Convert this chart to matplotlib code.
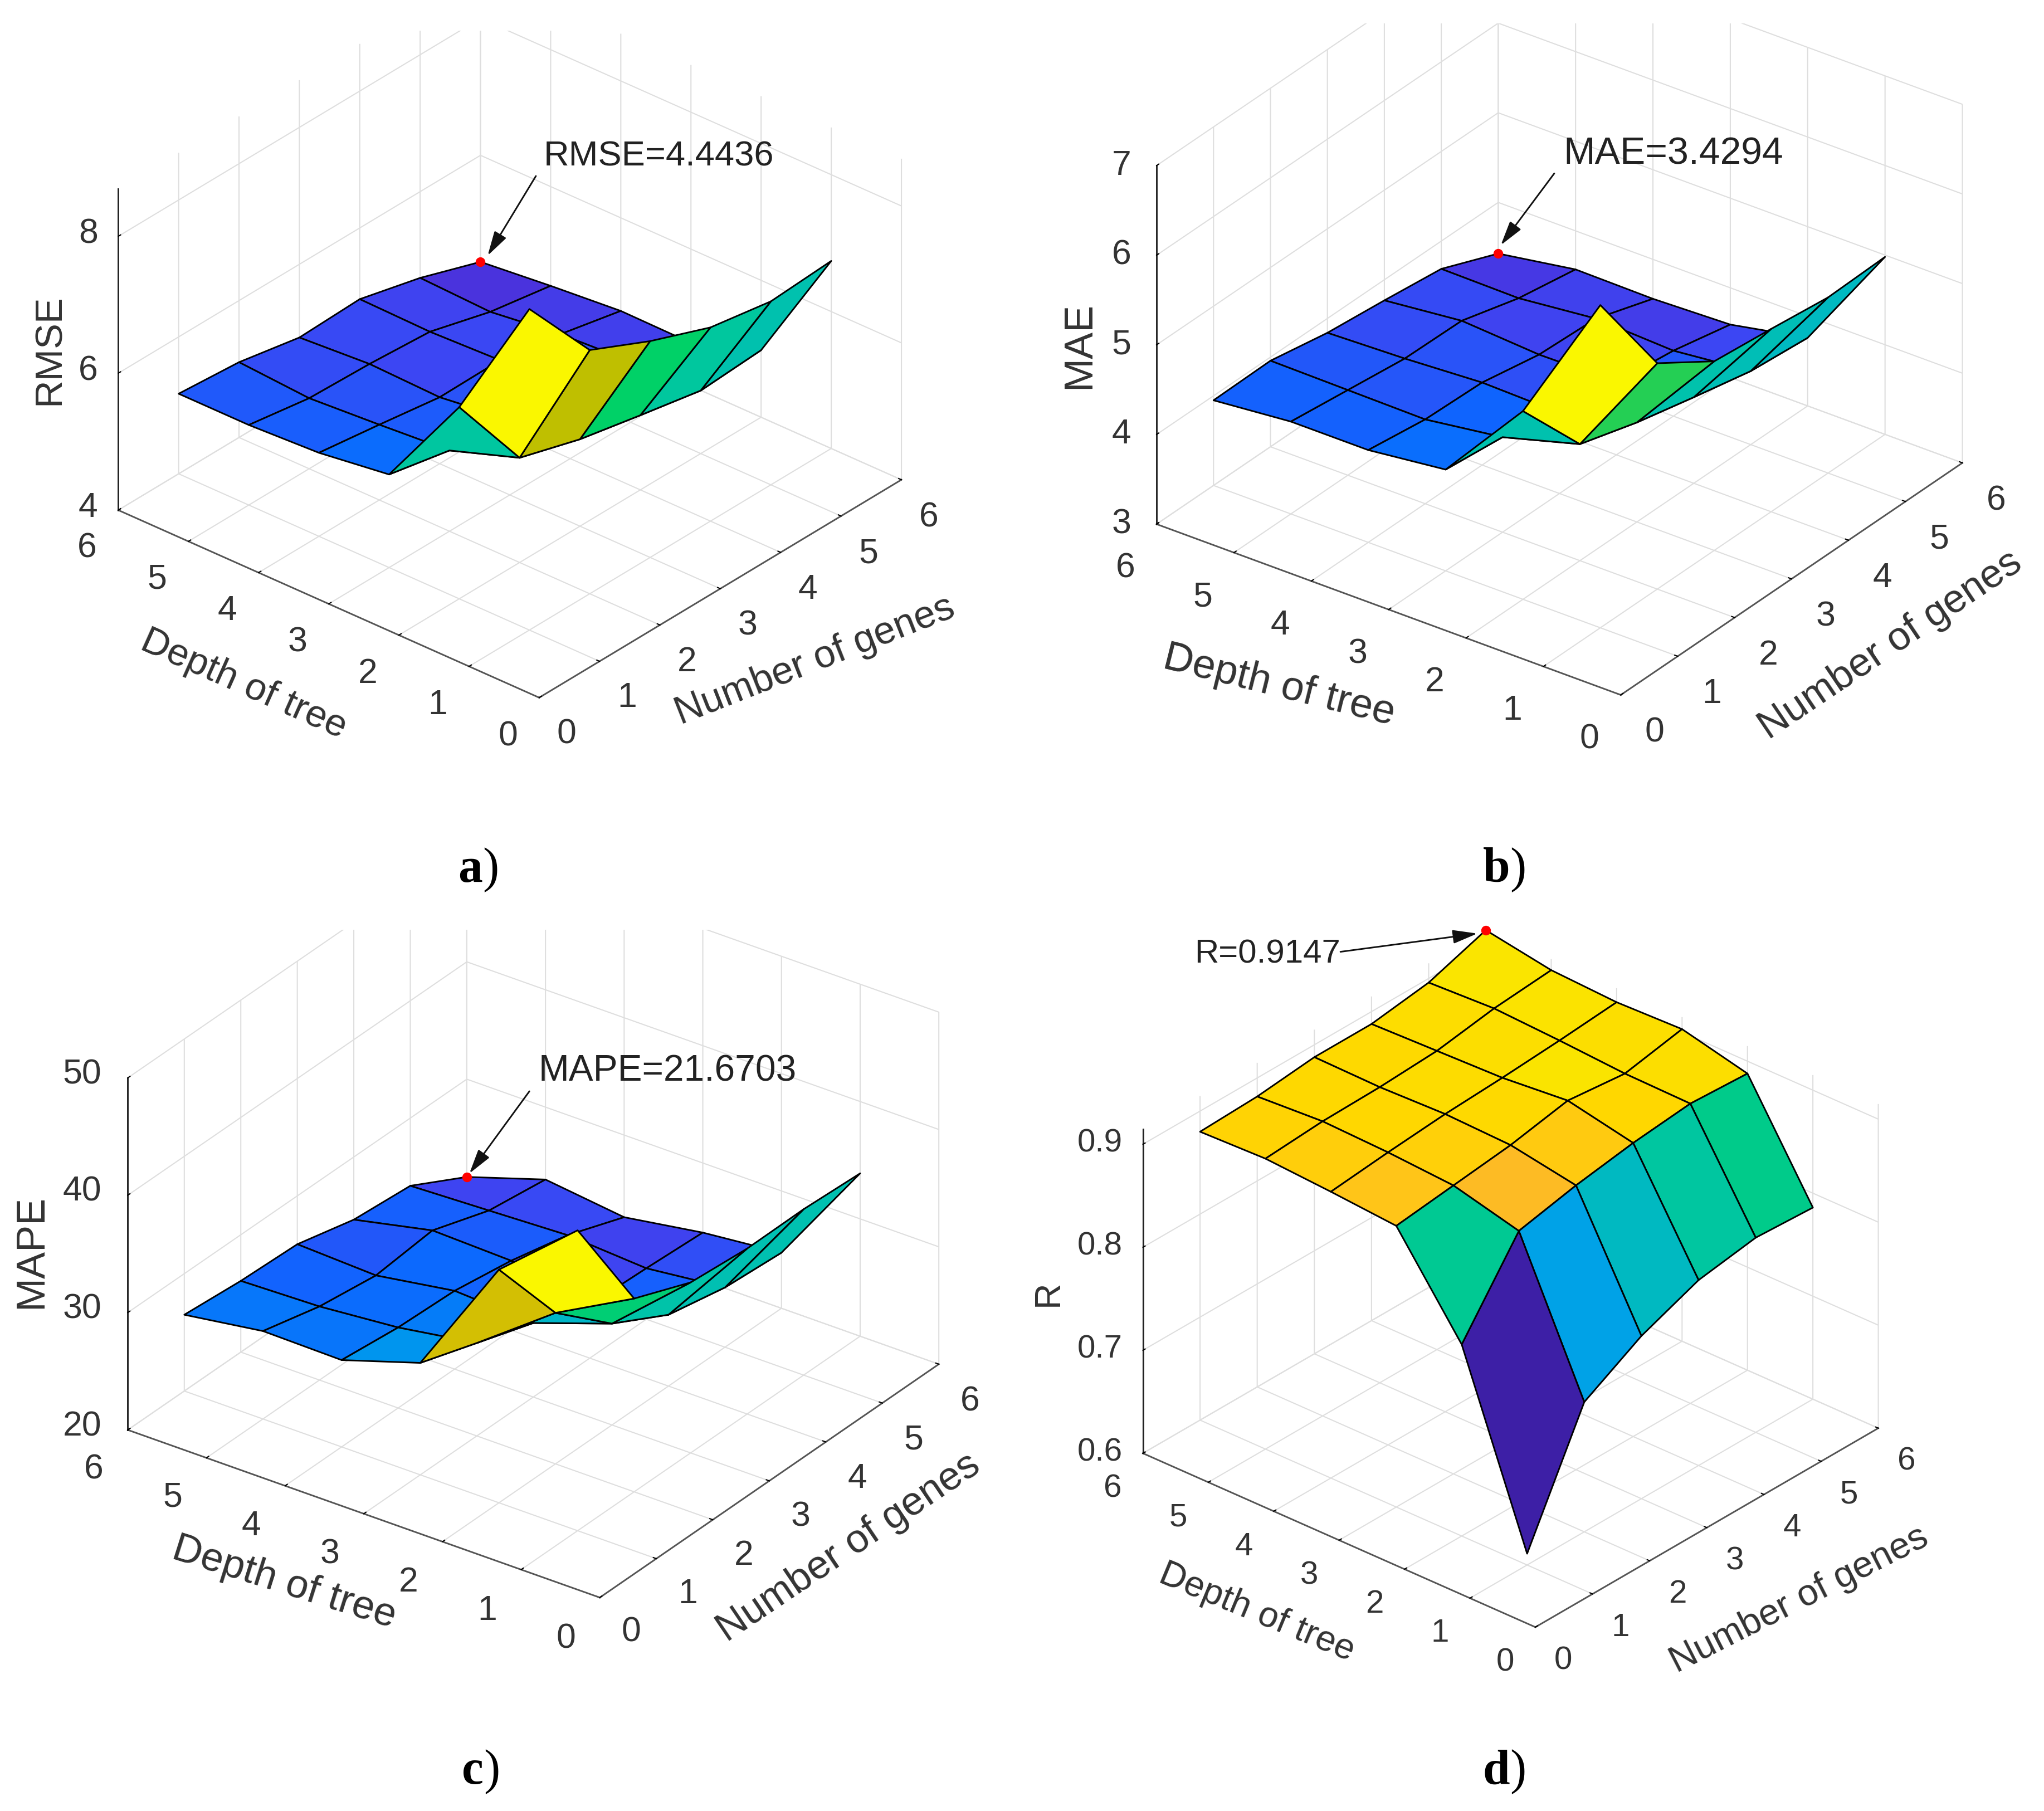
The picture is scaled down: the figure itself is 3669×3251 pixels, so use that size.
import math
import numpy as np
import matplotlib
matplotlib.use('Agg')
import matplotlib.pyplot as plt
from matplotlib.colors import LinearSegmentedColormap
from matplotlib.patches import Rectangle

plt.rcParams['font.family'] = ['Liberation Sans', 'DejaVu Sans']

genes = [1, 2, 3, 4, 5, 6]
depths = [1, 2, 3, 4, 5, 6]
axis_ticks = [0, 1, 2, 3, 4, 5, 6]

# rows: depth 1..6, columns: genes 1..6
rmse = [
    [8.69, 7.56, 7.16, 6.83, 6.68, 6.74],
    [6.80, 5.53, 5.27, 5.09, 4.92, 4.98],
    [5.36, 5.18, 5.10, 5.06, 4.89, 4.63],
    [5.22, 5.10, 4.97, 4.98, 4.83, 4.64],
    [5.17, 5.03, 5.00, 4.94, 4.70, 4.55],
    [5.17, 5.10, 4.93, 4.96, 4.74, 4.4436],
]
mae = [
    [6.60, 5.52, 5.11, 5.04, 4.96, 4.98],
    [5.10, 4.30, 4.11, 3.96, 3.82, 3.76],
    [4.13, 4.06, 3.90, 3.81, 3.73, 3.59],
    [4.03, 3.94, 3.92, 3.80, 3.77, 3.56],
    [4.03, 3.95, 3.87, 3.86, 3.68, 3.57],
    [3.95, 3.96, 3.84, 3.77, 3.69, 3.4294],
]
mape = [
    [45.60, 36.47, 34.53, 34.10, 34.14, 33.88],
    [39.87, 32.87, 28.64, 26.08, 25.09, 24.74],
    [29.54, 27.92, 26.31, 24.53, 24.34, 24.07],
    [27.40, 26.86, 26.67, 25.92, 24.78, 23.00],
    [27.49, 26.27, 25.60, 26.12, 24.50, 23.83],
    [26.50, 26.07, 25.88, 24.66, 24.23, 21.6703],
]
r_vals = [
    [0.611, 0.726, 0.758, 0.780, 0.789, 0.786],
    [0.786, 0.864, 0.876, 0.885, 0.891, 0.888],
    [0.873, 0.880, 0.887, 0.898, 0.892, 0.903],
    [0.878, 0.884, 0.889, 0.892, 0.896, 0.901],
    [0.882, 0.886, 0.887, 0.890, 0.899, 0.904],
    [0.880, 0.882, 0.888, 0.888, 0.896, 0.9147],
]

cmap = LinearSegmentedColormap.from_list('parula_like', [
    (0.00, (0.24, 0.12, 0.65)),
    (0.06, (0.29, 0.20, 0.87)),
    (0.12, (0.24, 0.27, 0.95)),
    (0.20, (0.05, 0.40, 1.00)),
    (0.30, (0.00, 0.55, 0.95)),
    (0.40, (0.00, 0.66, 0.89)),
    (0.50, (0.00, 0.74, 0.73)),
    (0.56, (0.00, 0.78, 0.62)),
    (0.64, (0.00, 0.82, 0.40)),
    (0.68, (0.30, 0.80, 0.25)),
    (0.73, (0.74, 0.75, 0.00)),
    (0.78, (0.88, 0.75, 0.02)),
    (0.84, (1.00, 0.73, 0.15)),
    (0.90, (1.00, 0.84, 0.00)),
    (0.95, (0.98, 0.90, 0.00)),
    (1.00, (0.98, 0.97, 0.00)),
])

W, H = 1568.0, 1389.0  # layout is worked out in the coordinates of the shrunk picture
txt = '#333333'

fig = plt.figure(figsize=(3670 / 300, 3251 / 300), dpi=300, facecolor='white')

# overlay for the labels, notes and captions
ov = fig.add_axes([0, 0, 1, 1], zorder=10)
ov.set_xlim(0, W)
ov.set_ylim(H, 0)
ov.axis('off')
ov.patch.set_alpha(0)


def draw_panel(values, zlim, zticks, zticklabels, front, gvec, dvec, zscale, tick_size,
               depth_off, genes_off, z_off):
    gx, gy = gvec
    dx, dy = dvec
    L = math.hypot(gx, dx)
    theta = math.atan2(gx, dx)
    elev = math.asin(0.5 * (gy / (L * math.cos(theta)) + dy / (L * math.sin(theta))))
    zpx = (zlim[1] - zlim[0]) * zscale
    box_h = zpx / math.cos(elev)

    aspect = np.array([L, L, box_h])
    world = aspect * 1.8294640721620434 * 25 / 24 / np.linalg.norm(aspect)
    S = 1.85 * L / world[0]
    cx = front[0] + (gx - dx) / 2
    cy = front[1] - (gy + dy) / 2 - zpx / 2
    left = cx - 0.95 / 1.85 * S
    bottom = cy + 0.95 / 1.85 * S

    ax = fig.add_axes([left / W, 1 - bottom / H, S / W, S / H], projection='3d')
    ax.set_proj_type('ortho')
    ax.set_box_aspect(aspect)
    ax.view_init(elev=math.degrees(elev), azim=-180 + math.degrees(theta))
    ax.set_facecolor('none')
    ax.computed_zorder = False

    X, Y = np.meshgrid(genes, depths)
    Z = np.array(values)
    colors = cmap((Z - Z.min()) / (Z.max() - Z.min()))
    ax.plot_surface(X, Y, Z, facecolors=colors, rstride=1, cstride=1, shade=False,
                    edgecolor='black', linewidth=0.7, antialiased=True, zorder=1)
    ax.scatter([genes[-1]], [depths[-1]], [Z[-1, -1]], color='red', s=10, depthshade=False, zorder=2)

    ax.set_xlim(0, 6, view_margin=0)
    ax.set_ylim(0, 6, view_margin=0)
    ax.set_zlim(zlim[0], zlim[1], view_margin=0)
    ax.set_xticks(axis_ticks)
    ax.set_yticks(axis_ticks)
    ax.set_zticks(zticks)
    # tick labels go on the overlay, mplot3d can only push them straight out from the box
    ax.set_xticklabels([''] * len(axis_ticks))
    ax.set_yticklabels([''] * len(axis_ticks))
    ax.set_zticklabels([''] * len(zticks))

    for axis in (ax.xaxis, ax.yaxis, ax.zaxis):
        axis.set_pane_color((1, 1, 1, 0))
        axis.pane.set_edgecolor((1, 1, 1, 0))
        axis.line.set_color('#555555')
        axis.line.set_linewidth(0.7)
        axis._axinfo['grid']['color'] = '#dedede'
        axis._axinfo['grid']['linewidth'] = 0.5
        axis._axinfo['tick']['inward_factor'] = 0.0
        axis._axinfo['tick']['outward_factor'] = 0.08
        axis._axinfo['tick']['linewidth'] = {True: 0.5, False: 0.5}
    ax.zaxis.line.set_color('#222222')

    for t in axis_ticks:
        ov.text(front[0] - dx * t / 6 + depth_off[0], front[1] - dy * t / 6 + depth_off[1], str(t),
                fontsize=tick_size, color=txt, ha='center', va='center')
        ov.text(front[0] + gx * t / 6 + genes_off[0], front[1] - gy * t / 6 + genes_off[1], str(t),
                fontsize=tick_size, color=txt, ha='center', va='center')
    for z, label in zip(zticks, zticklabels):
        ov.text(front[0] - dx + z_off[0], front[1] - dy - (z - zlim[0]) * zscale + z_off[1], label,
                fontsize=tick_size, color=txt, ha='center', va='center')


draw_panel(rmse, (4, 8.69), [4, 6, 8], ['4', '6', '8'],
           (413.5, 535), (277.8, 166.2), (322.8, 144.6), 52.5, 15, (-24, 30), (21, 28), (-23, -1))
draw_panel(mae, (3, 7), [3, 4, 5, 6, 7], ['3', '4', '5', '6', '7'],
           (1243, 533), (262, 178), (356, 131), 68.75, 15, (-24, 34), (26, 29), (-27, 0))
draw_panel(mape, (20, 50), [20, 30, 40, 50], ['20', '30', '40', '50'],
           (460, 1225), (260, 177), (362, 130), 9.0, 15, (-26, 32), (24, 27), (-35, -1))
draw_panel(r_vals, (0.6, 0.9147), [0.6, 0.7, 0.8, 0.9], ['0.6', '0.7', '0.8', '0.9'],
           (1177.5, 1248), (263, 153), (301, 133), 790.0, 14, (-23, 27), (21.5, 26), (-33, -1))

# the source images are cropped above the walls
for x0, y0, w, h in [(0, 0, 780, 23.5), (780, 0, 788, 18), (40, 600, 740, 113)]:
    ov.add_patch(Rectangle((x0, y0), w, h, facecolor='white', edgecolor='none', zorder=0))

axis_labels = [
    ('Depth of tree', 187, 525, -24, 16.5),
    ('Number of genes', 625, 507, 21.5, 16.7),
    ('RMSE', 38, 268, 90, 16.5),
    ('Depth of tree', 981, 526, -14, 17.7),
    ('Number of genes', 1450, 495, 34, 17.3),
    ('MAE', 828, 265, 90, 17.3),
    ('Depth of tree', 218, 1214, -17.5, 17.3),
    ('Number of genes', 651, 1187, 34, 17.3),
    ('MAPE', 24, 960, 90, 17.3),
    ('Depth of tree', 964, 1237, -22.5, 15.5),
    ('Number of genes', 1380, 1227, 27, 16),
    ('R', 804, 992, 90, 15.5),
]
for s, x, y, rot, size in axis_labels:
    ov.text(x, y, s, rotation=rot, fontsize=size, color=txt, ha='center', va='center',
            rotation_mode='anchor', zorder=3)

notes = [
    ('RMSE=4.4436', (417, 120), (411, 135), (374, 196), 15.2),
    ('MAE=3.4294', (1199, 118), (1192, 133), (1151, 188), 16.3),
    ('MAPE=21.6703', (413, 822), (406, 837), (360, 900), 15.8),
    ('R=0.9147', (916, 732), (1028, 730), (1133, 716), 14.4),
]
for s, pos, start, tip, size in notes:
    ov.text(pos[0], pos[1], s, fontsize=size, color='#222222', ha='left', va='center', zorder=3)
    ov.annotate('', xy=tip, xytext=start, zorder=3,
                arrowprops=dict(arrowstyle='-|>,head_length=0.9,head_width=0.25', mutation_scale=10,
                                lw=0.7, color='#111111', shrinkA=0, shrinkB=0))

captions = [('a', 370, 663), ('b', 1158, 663), ('c', 371, 1355), ('d', 1158, 1355)]
for letter, x, y in captions:
    ov.text(x, y, letter, fontsize=21, fontweight='bold', family='Liberation Serif',
            color='black', ha='right', va='center_baseline', zorder=3)
    ov.text(x, y, ')', fontsize=21, family='Liberation Serif', color='black', ha='left',
            va='center_baseline', zorder=3)

fig.savefig('out.png', dpi=300, facecolor='white')
plt.close(fig)
